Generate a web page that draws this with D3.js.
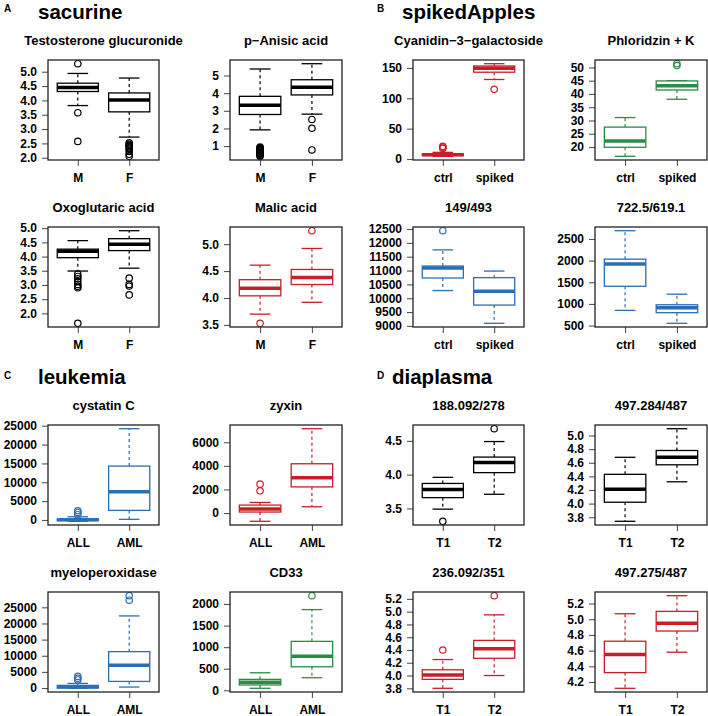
<!DOCTYPE html>
<html>
<head>
<meta charset="utf-8">
<script src="https://cdn.jsdelivr.net/npm/d3@7"></script>
<style>
body { margin: 0; background: #fff; }
svg { display: block; font-family: "Liberation Sans", Arial, Helvetica, sans-serif; font-weight: bold; }
</style>
</head>
<body>
<div id="main"></div>
<script>
// panels
var panelLetters = ["A", "B", "C", "D"];
var panelNames = ["sacurine", "spikedApples", "leukemia", "diaplasma"];
var panelGroups = [["M", "F"], ["ctrl", "spiked"], ["ALL", "AML"], ["T1", "T2"]];

var plotTitles = [
  "Testosterone glucuronide", "p\u2212Anisic acid", "Oxoglutaric acid", "Malic acid",
  "Cyanidin\u22123\u2212galactoside", "Phloridzin + K", "149/493", "722.5/619.1",
  "cystatin C", "zyxin", "myeloperoxidase", "CD33",
  "188.092/278", "497.284/487", "236.092/351", "497.275/487"
];
var plotColors = ["black", "black", "black", "red", "red", "green", "blue", "blue",
  "blue", "red", "blue", "green", "black", "black", "red", "red"];

// box stats per group: [lower whisker, Q1, median, Q3, upper whisker]
var testosteroneStats = [[3.82, 4.31, 4.45, 4.60, 4.94], [2.72, 3.60, 4.01, 4.26, 4.78]];
var testosteroneOut = [[5.28, 3.57, 2.57], [2.52, 2.47, 2.43, 2.39, 2.35, 2.30, 2.22, 2.12, 2.05]];
var anisicStats = [[1.92, 2.79, 3.32, 3.82, 5.37], [2.81, 3.90, 4.33, 4.76, 5.67]];
var anisicOut = [[0.95, 0.90, 0.86, 0.82, 0.78, 0.74, 0.70, 0.66, 0.62, 0.58, 0.54, 0.50, 0.46, 0.42], [2.51, 2.01, 0.78]];
var oxoglutaricStats = [[3.49, 3.96, 4.19, 4.26, 4.56], [3.59, 4.21, 4.43, 4.63, 4.91]];
var oxoglutaricOut = [[3.38, 3.30, 3.22, 3.12, 3.02, 2.95, 2.90, 1.65], [3.24, 3.02, 2.96, 2.65]];
var malicStats = [[3.70, 4.04, 4.18, 4.34, 4.61], [3.92, 4.25, 4.38, 4.53, 4.92]];
var malicOut = [[3.53], [5.25]];

var cyanidinStats = [[4.5, 5.8, 7, 8.5, 11], [131, 143, 149.5, 153.2, 157]];
var cyanidinOut = [[17.5, 19.5, 21], [114.8]];
var phloridzinStats = [[16.5, 19.9, 22.25, 27.5, 31.1], [38.0, 41.5, 43.1, 44.9, 45.0]];
var phloridzinOut = [[], [51.4, 50.7]];
var mz149Stats = [[10277, 10731, 11090, 11162, 11747], [9094, 9752, 10253, 10743, 10982]];
var mz149Out = [[12440], []];
var mz722Stats = [[851, 1408, 1920, 2034, 2691], [553, 798, 912, 981, 1225]];
var mz722Out = [[], []];

var cystatinStats = [[-350, -150, 80, 250, 850], [175, 2544, 7456, 14298, 24210]];
var cystatinOut = [[1400, 2000, 2450], []];
var zyxinStats = [[-701, 84, 336, 672, 897], [532, 2215, 3000, 4177, 7150]];
var zyxinOut = [[1880, 2450], []];
var mpoStats = [[-80, 0, 410, 820, 1434], [307, 2049, 7070, 11270, 22336]];
var mpoOut = [[2500, 3000, 3600], [27200, 28600]];
var cd33Stats = [[46, 123, 184, 253, 406], [291, 544, 789, 1134, 1870]];
var cd33Out = [[], [2192]];

var mz188Stats = [[3.49, 3.66, 3.78, 3.87, 3.96], [3.71, 4.03, 4.18, 4.26, 4.49]];
var mz188Out = [[3.31], [4.68]];
var mz497aStats = [[3.74, 4.02, 4.21, 4.43, 4.68], [4.32, 4.57, 4.68, 4.78, 5.10]];
var mz497aOut = [[], []];
var mz236Stats = [[3.80, 3.94, 4.01, 4.09, 4.25], [4.00, 4.27, 4.42, 4.55, 4.95]];
var mz236Out = [[4.40], [5.25]];
var mz497bStats = [[4.12, 4.32, 4.55, 4.72, 5.07], [4.58, 4.85, 4.95, 5.10, 5.30]];
var mz497bOut = [[], []];

// y tick values and decimals
var plotTicks = [
  [2.0, 2.5, 3.0, 3.5, 4.0, 4.5, 5.0], [1, 2, 3, 4, 5], [2.0, 2.5, 3.0, 3.5, 4.0, 4.5, 5.0], [3.5, 4.0, 4.5, 5.0],
  [0, 50, 100, 150], [20, 25, 30, 35, 40, 45, 50], [9000, 9500, 10000, 10500, 11000, 11500, 12000, 12500], [500, 1000, 1500, 2000, 2500],
  [0, 5000, 10000, 15000, 20000, 25000], [0, 2000, 4000, 6000], [0, 5000, 10000, 15000, 20000, 25000], [0, 500, 1000, 1500, 2000],
  [3.5, 4.0, 4.5], [3.8, 4.0, 4.2, 4.4, 4.6, 4.8, 5.0], [3.8, 4.0, 4.2, 4.4, 4.6, 4.8, 5.0, 5.2], [4.2, 4.4, 4.6, 4.8, 5.0, 5.2]
];
var plotDecimals = [1, 0, 1, 1, 0, 0, 0, 0, 0, 0, 0, 0, 1, 1, 1, 1];

var plotStats = [testosteroneStats, anisicStats, oxoglutaricStats, malicStats,
  cyanidinStats, phloridzinStats, mz149Stats, mz722Stats,
  cystatinStats, zyxinStats, mpoStats, cd33Stats,
  mz188Stats, mz497aStats, mz236Stats, mz497bStats];
var plotOutliers = [testosteroneOut, anisicOut, oxoglutaricOut, malicOut,
  cyanidinOut, phloridzinOut, mz149Out, mz722Out,
  cystatinOut, zyxinOut, mpoOut, cd33Out,
  mz188Out, mz497aOut, mz236Out, mz497bOut];

var palette = { black: "#000000", red: "#c81e28", blue: "#2a6eb4", green: "#2a8c46" };

// layout
var colLeft = [48, 230, 413, 595];
var colWidth = [111, 112, 111, 112];
var rowTop = [60, 227, 425, 592];
var boxHeight = 100;
var letterPos = [[4, 12], [377, 12], [4, 379], [377, 379]];
var namePos = [[38, 19], [402, 19], [38, 384], [392, 384]];

var svg = d3.select("#main")
  .append("svg")
  .attr("width", 708)
  .attr("height", 716);

panelLetters.forEach(function(l, p) {
  svg.append("text")
    .attr("x", letterPos[p][0]).attr("y", letterPos[p][1])
    .attr("font-size", 10)
    .text(l);
  svg.append("text")
    .attr("x", namePos[p][0]).attr("y", namePos[p][1])
    .attr("font-size", 20.5)
    .text(panelNames[p]);
});

function drawPlot(i) {
  var p = Math.floor(i / 4), k = i % 4;
  var col = (p % 2) * 2 + (k % 2);
  var row = Math.floor(p / 2) * 2 + Math.floor(k / 2);
  var w = colWidth[col], h = boxHeight;
  var stats = plotStats[i], outs = plotOutliers[i];
  var color = palette[plotColors[i]];
  var groups = panelGroups[p];

  var all = d3.merge(stats.concat(outs));
  var lo = d3.min(all), hi = d3.max(all), pad = (hi - lo) * 0.04;

  var x = d3.scaleLinear().domain([0.42, 2.58]).range([0, w]);
  var y = d3.scaleLinear().domain([lo - pad, hi + pad]).range([h, 0]);

  var g = svg.append("g")
    .attr("transform", "translate(" + colLeft[col] + "," + rowTop[row] + ")");

  g.append("text")
    .attr("x", w / 2).attr("y", -15)
    .attr("text-anchor", "middle")
    .attr("font-size", 13)
    .text(plotTitles[i]);

  var yAxis = d3.axisLeft(y)
    .tickValues(plotTicks[i])
    .tickFormat(d3.format("." + plotDecimals[i] + "f"))
    .tickSize(6).tickPadding(5);
  var xAxis = d3.axisBottom(x)
    .tickValues([1, 2])
    .tickFormat(function(d) { return groups[d - 1]; })
    .tickSize(6).tickPadding(7);

  var yAxisG = g.append("g").call(yAxis);
  var xAxisG = g.append("g").attr("transform", "translate(0," + h + ")").call(xAxis);
  [yAxisG, xAxisG].forEach(function(a) {
    a.attr("font-family", null).attr("font-size", 12);
    a.select(".domain").remove();
    a.selectAll(".tick line").attr("stroke", "#555").attr("stroke-width", 1.1);
    a.selectAll(".tick text").attr("fill", "#000");
  });

  var bw = x(1.4) - x(0.6);
  stats.forEach(function(s, j) {
    var cx = x(j + 1);
    var bg = g.append("g").attr("stroke", color).attr("fill", "none");
    // whiskers
    bg.append("line").attr("x1", cx).attr("x2", cx).attr("y1", y(s[3])).attr("y2", y(s[4]))
      .attr("stroke-width", 1.2).attr("stroke-dasharray", "3,3");
    bg.append("line").attr("x1", cx).attr("x2", cx).attr("y1", y(s[1])).attr("y2", y(s[0]))
      .attr("stroke-width", 1.2).attr("stroke-dasharray", "3,3");
    [s[0], s[4]].forEach(function(v) {
      bg.append("line").attr("x1", cx - bw / 4).attr("x2", cx + bw / 4)
        .attr("y1", y(v)).attr("y2", y(v)).attr("stroke-width", 1.3);
    });
    // box
    bg.append("rect")
      .attr("x", cx - bw / 2).attr("y", y(s[3]))
      .attr("width", bw).attr("height", Math.max(0, y(s[1]) - y(s[3])))
      .attr("fill", "#fff").attr("stroke-width", 1.3);
    bg.append("line").attr("x1", cx - bw / 2).attr("x2", cx + bw / 2)
      .attr("y1", y(s[2])).attr("y2", y(s[2])).attr("stroke-width", 3.5);
    // outliers
    bg.selectAll("circle").data(outs[j]).enter()
      .append("circle")
      .attr("cx", cx).attr("cy", function(d) { return y(d); })
      .attr("r", 3.2).attr("stroke-width", 1.2);
  });

  g.append("rect")
    .attr("width", w).attr("height", h)
    .attr("fill", "none").attr("stroke", "#222").attr("stroke-width", 1.3);
}

d3.range(16).forEach(drawPlot);
</script>
</body>
</html>
